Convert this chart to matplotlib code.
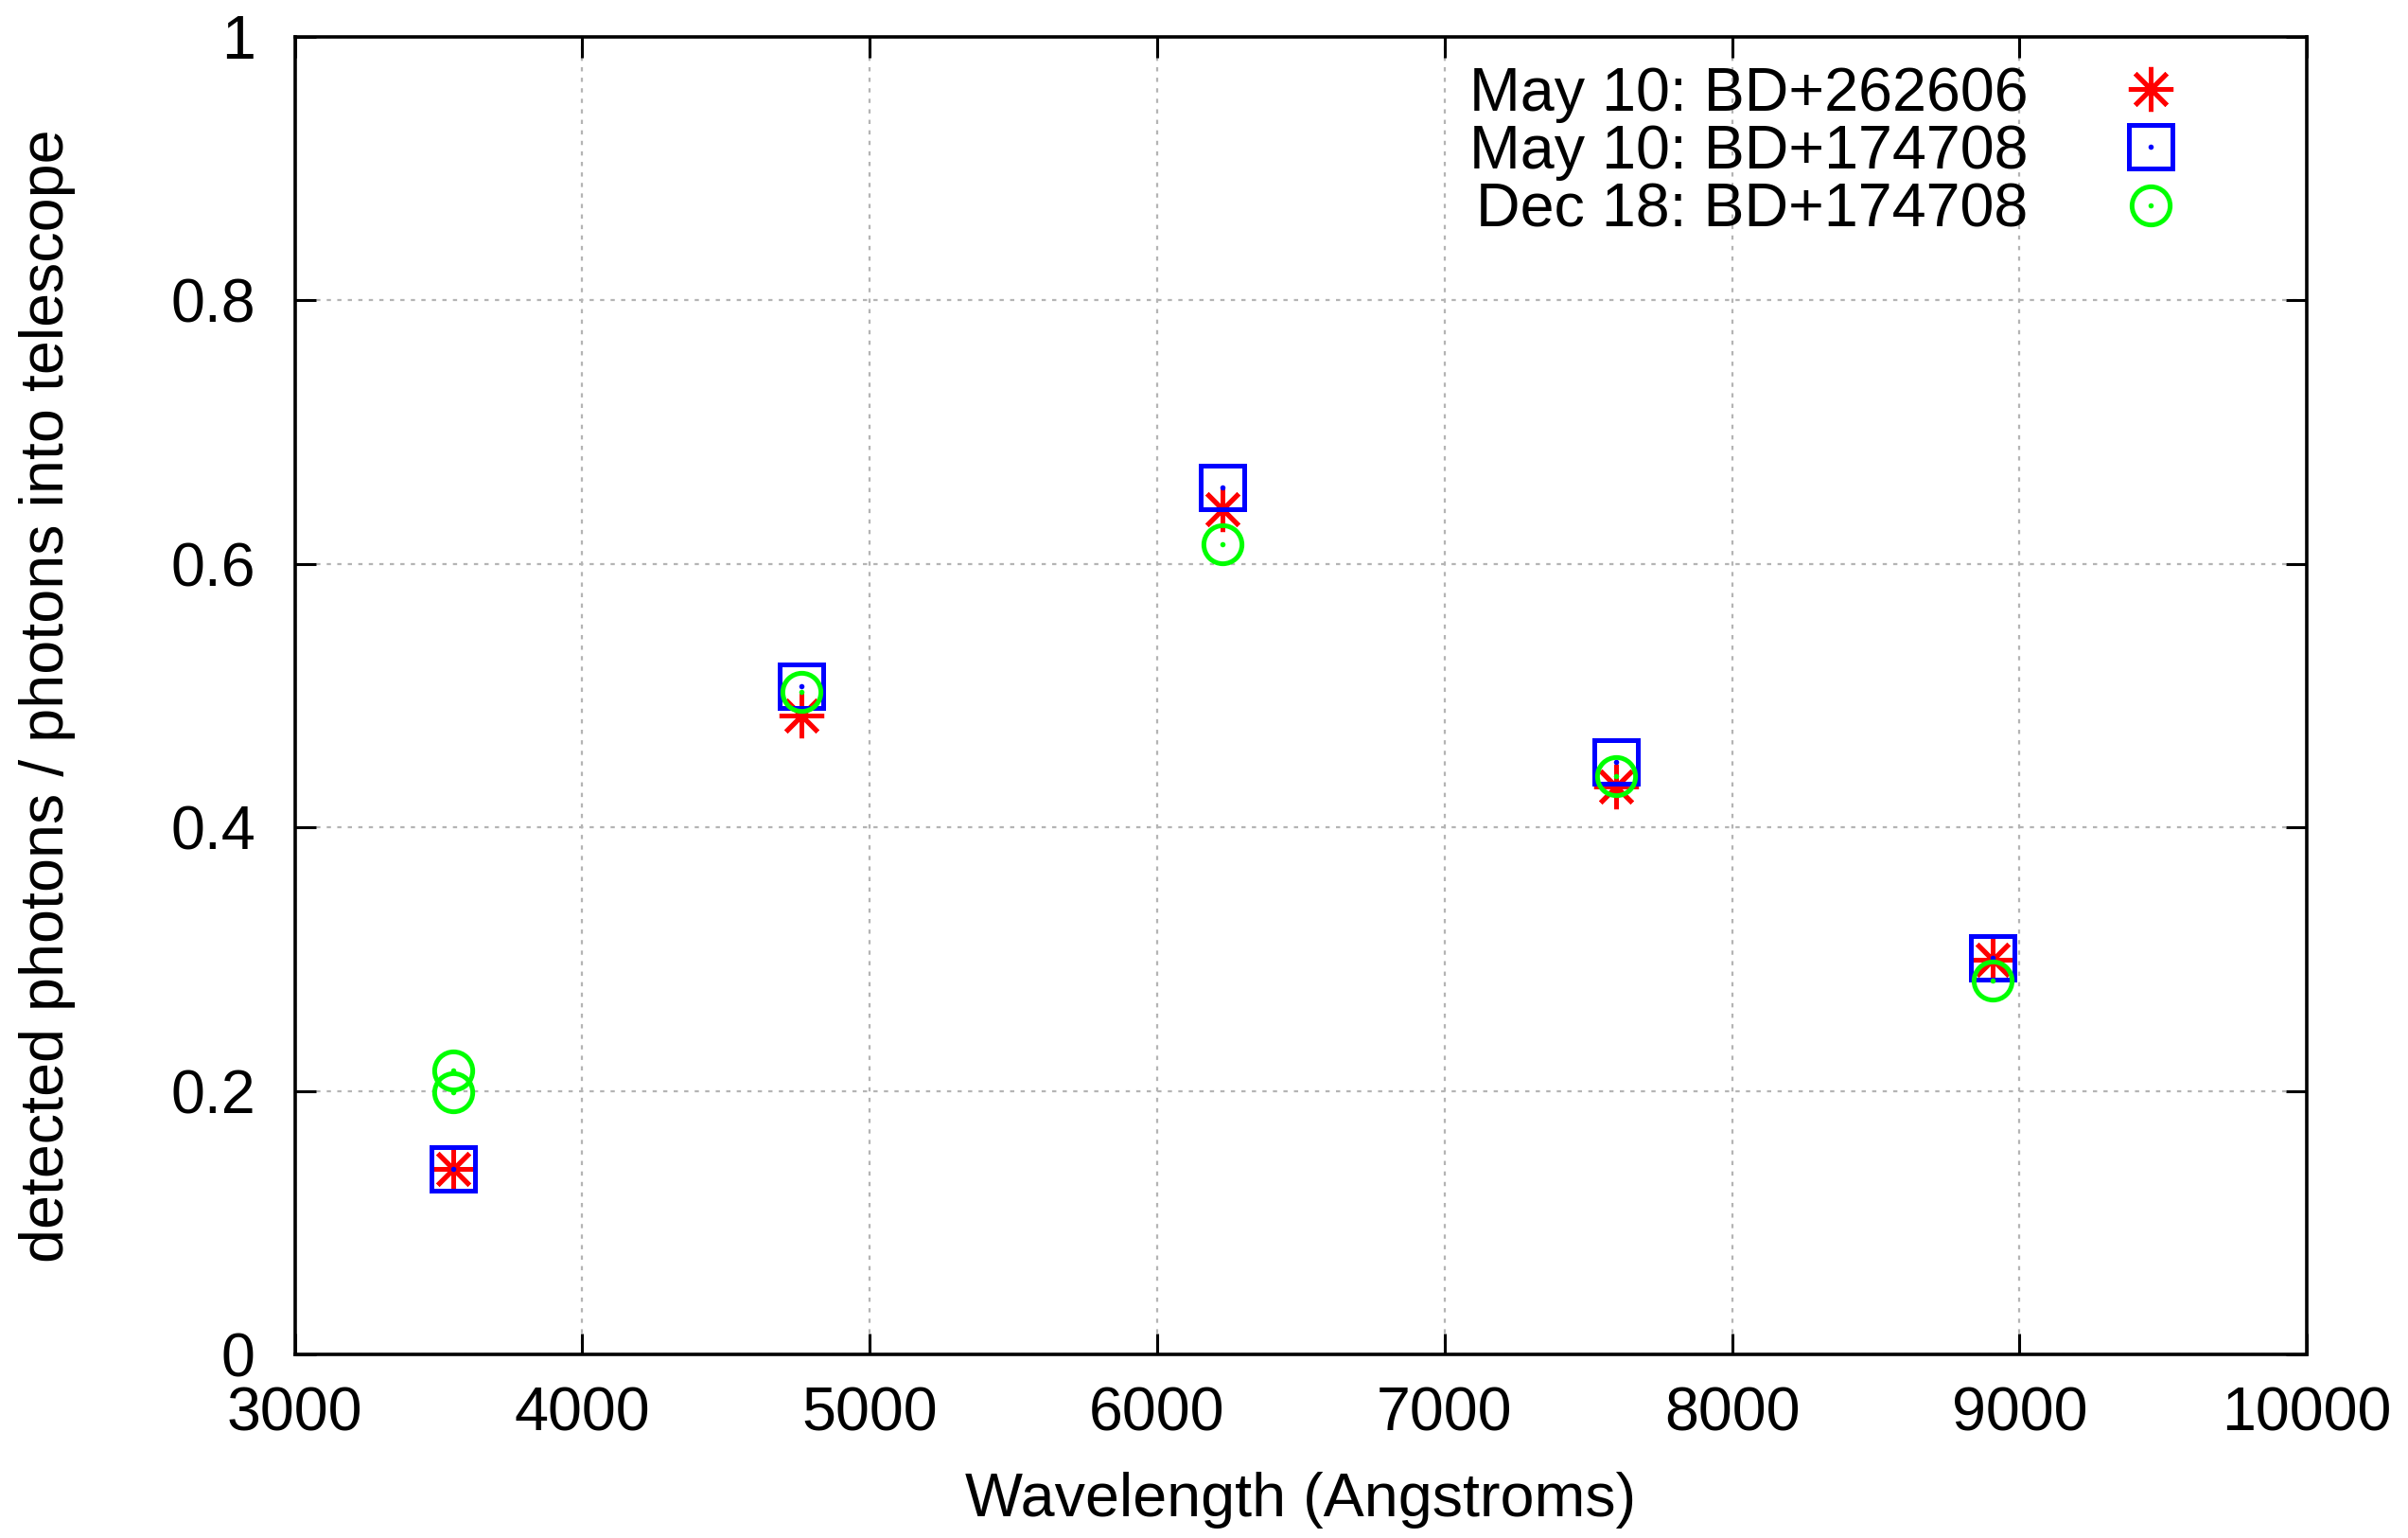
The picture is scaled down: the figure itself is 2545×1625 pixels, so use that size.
import numpy as np
import matplotlib.pyplot as plt
from matplotlib.ticker import FuncFormatter

plt.rcParams['font.family'] = ['Liberation Sans', 'DejaVu Sans']

# wavelength (Angstroms) and detected / incoming photon ratio
wl_bd26 = [3550, 4764, 6228, 7597, 8906]
eff_bd26 = [0.141, 0.485, 0.642, 0.431, 0.300]

wl_bd17_may = [3550, 4764, 6228, 7597, 8906]
eff_bd17_may = [0.141, 0.507, 0.658, 0.450, 0.301]

wl_bd17_dec = [3550, 3550, 4764, 6228, 7597, 8906]
eff_bd17_dec = [0.216, 0.199, 0.503, 0.615, 0.439, 0.284]

labels = ['May 10: BD+262606', 'May 10: BD+174708', 'Dec 18: BD+174708']

fig = plt.figure(figsize=(25.45, 16.25), dpi=100)
ax = fig.add_axes([0.1224, 0.1191, 0.8356, 0.8569])

fs = 46.5

# series 1 : red asterisk
h1, = ax.plot(wl_bd26, eff_bd26, linestyle='none', marker=(8, 2, 0), ms=34,
              mew=3.6, color='#ff0000')
# series 2 : blue open square with centre dot
h2, = ax.plot(wl_bd17_may, eff_bd17_may, linestyle='none', marker='s', ms=33,
              mew=3.6, mfc='none', mec='#0000ff')
h2d, = ax.plot(wl_bd17_may, eff_bd17_may, linestyle='none', marker='o', ms=4,
               mew=0, color='#0000ff')
# series 3 : green open circle with centre dot
h3, = ax.plot(wl_bd17_dec, eff_bd17_dec, linestyle='none', marker='o', ms=29,
              mew=3.6, mfc='none', mec='#00ff00')
h3d, = ax.plot(wl_bd17_dec, eff_bd17_dec, linestyle='none', marker='o', ms=4,
               mew=0, color='#00ff00')

ax.set_xlim(3000, 10000)
ax.set_ylim(0, 1)
ax.set_xticks(np.arange(3000, 10001, 1000))
ax.set_yticks(np.arange(0, 1.01, 0.2))
ax.yaxis.set_major_formatter(FuncFormatter(lambda v, p: '%g' % round(v, 2)))

ax.grid(True, color='#b4b4b4', linestyle=(0, (2, 3)), linewidth=1.6)
ax.set_axisbelow(True)

ax.tick_params(direction='in', length=16, width=2.2, labelsize=fs,
               top=True, right=True)
ax.tick_params(axis='x', pad=24)
ax.tick_params(axis='y', pad=30)
for s in ax.spines.values():
    s.set_linewidth(2.6)

ax.set_xlabel('Wavelength (Angstroms)', fontsize=fs, labelpad=22)
ax.set_ylabel('detected photons / photons into telescope', fontsize=fs,
              labelpad=72)

leg = ax.legend([h1, (h2, h2d), (h3, h3d)], labels, loc='upper right',
                bbox_to_anchor=(0.9586, 0.978),
                frameon=False, markerfirst=False, alignment='right',
                fontsize=fs, handlelength=2.4, handletextpad=0.8,
                labelspacing=0.02, borderaxespad=0, borderpad=0)

fig.savefig('out.png', dpi=100)
